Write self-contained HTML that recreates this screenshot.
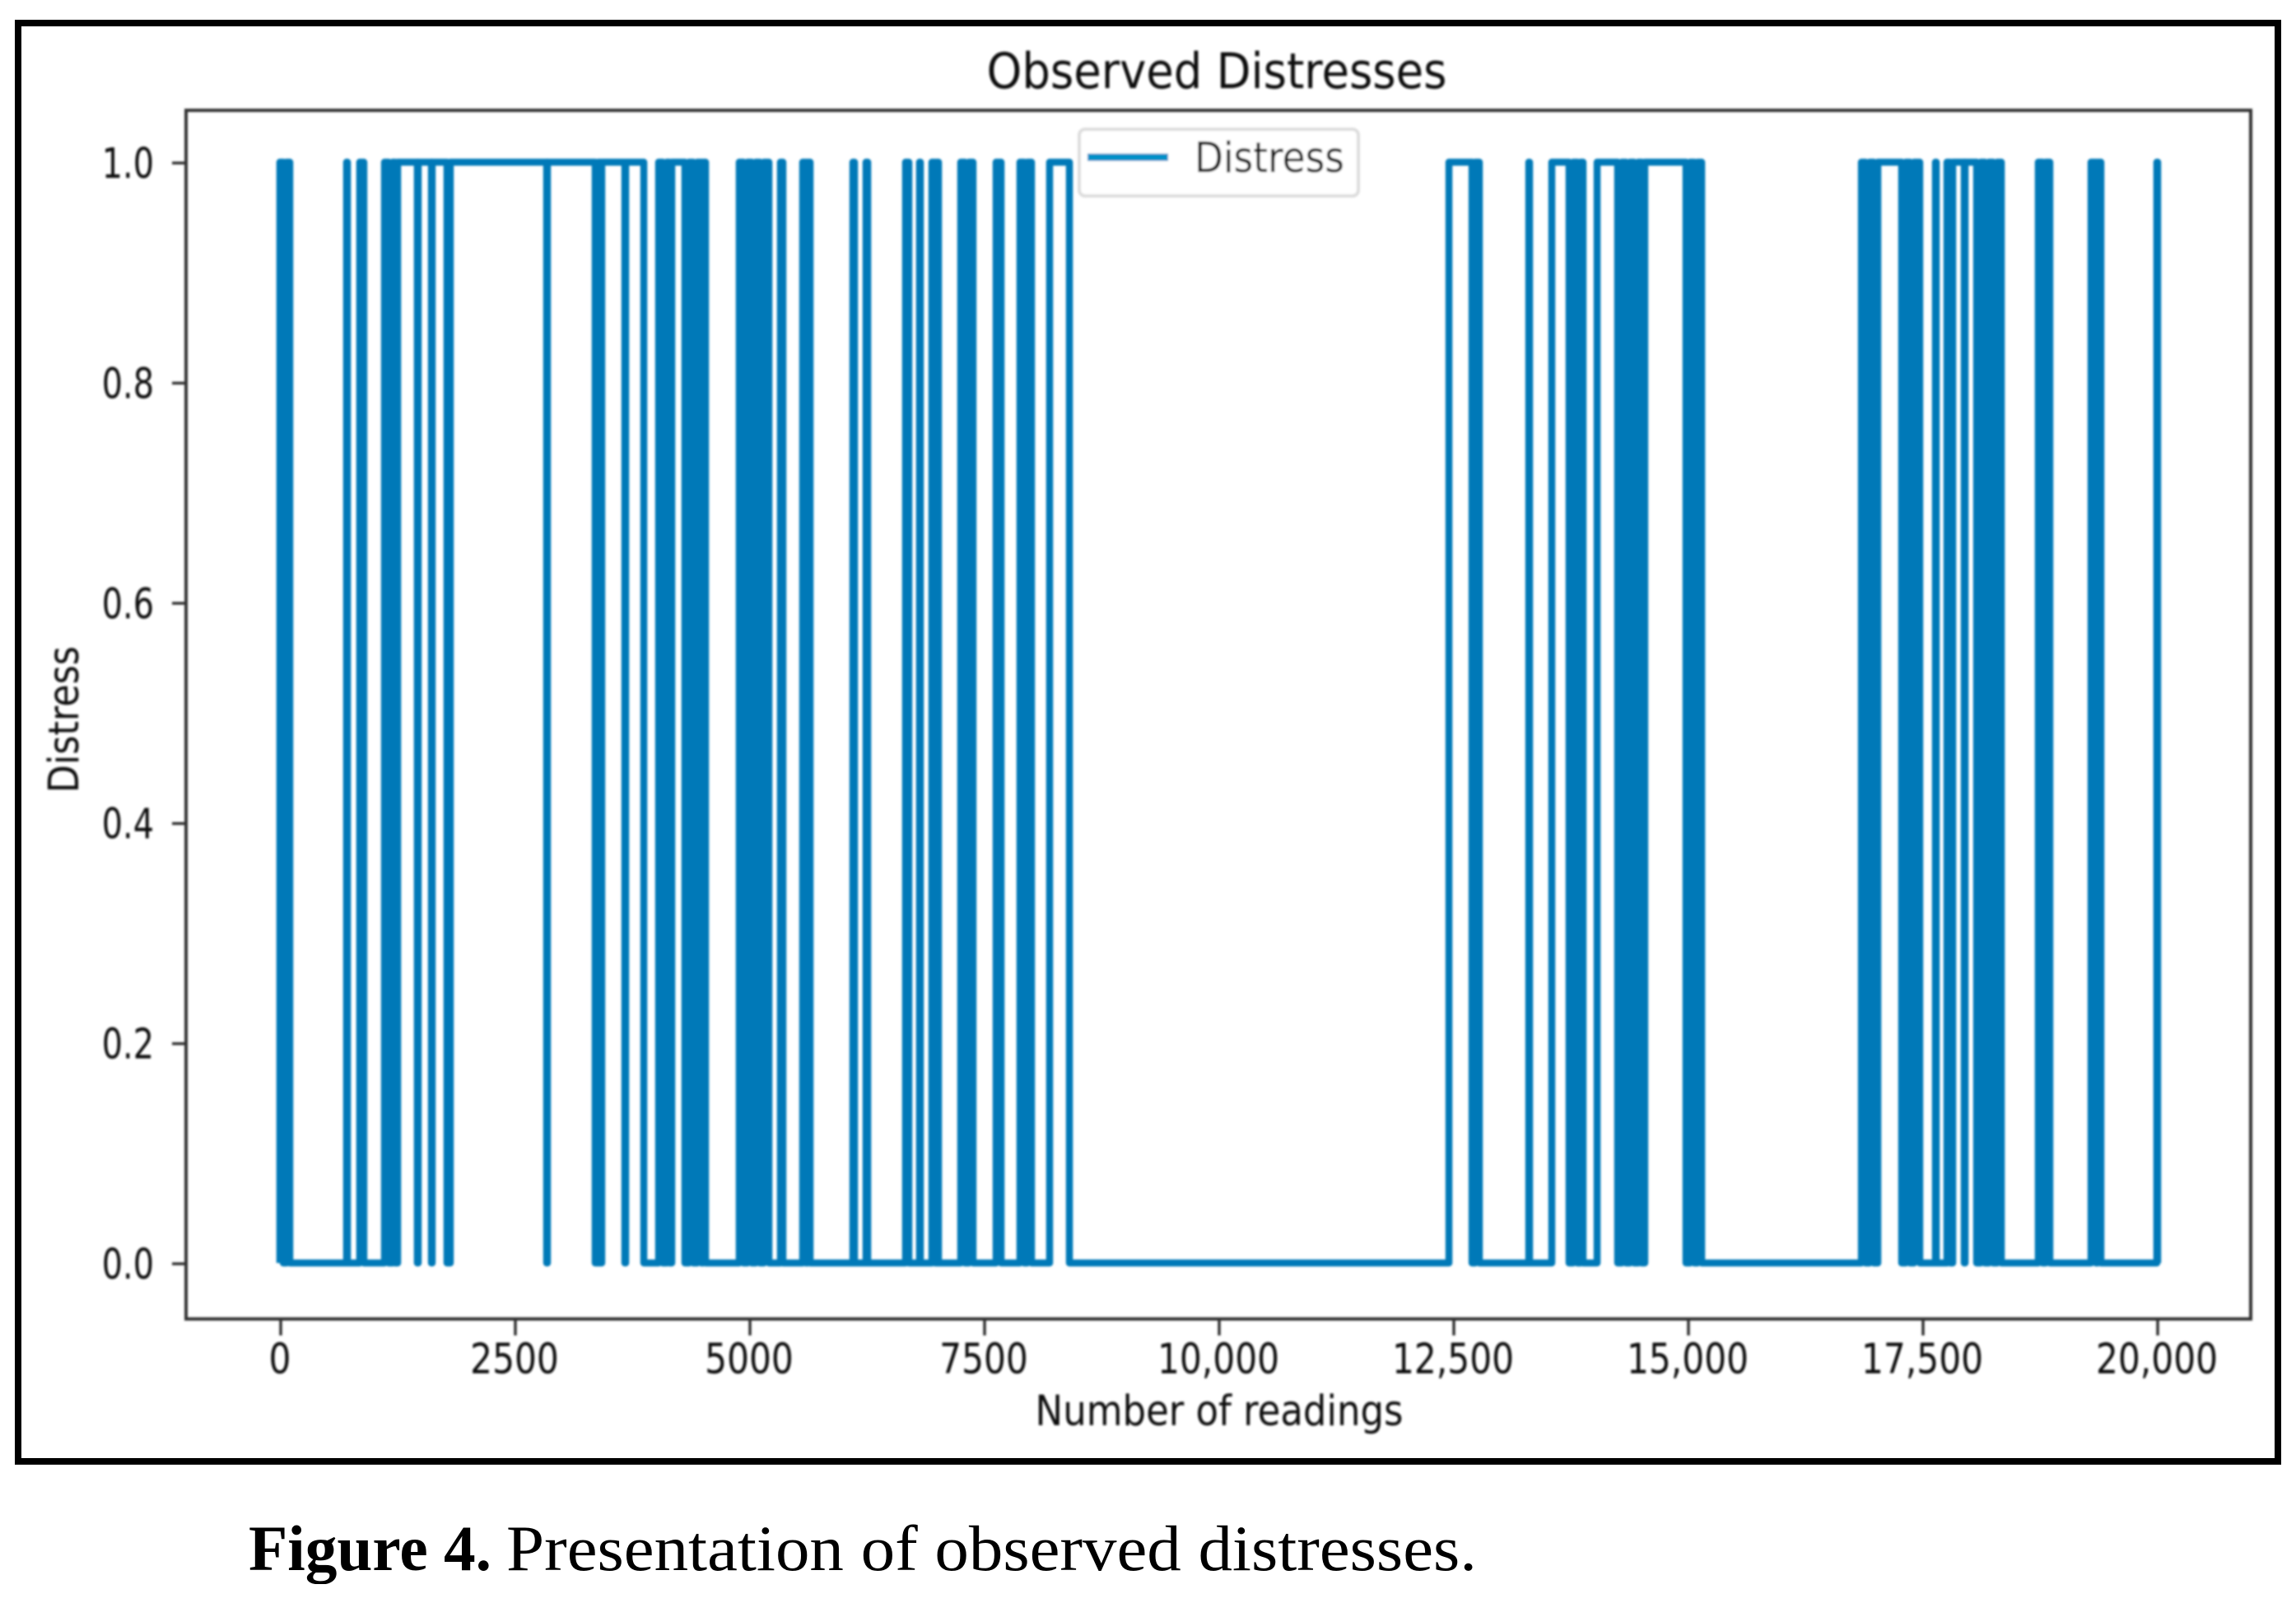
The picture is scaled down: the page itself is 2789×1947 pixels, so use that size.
<!DOCTYPE html>
<html lang="en">
<head>
<meta charset="utf-8">
<title>Observed Distresses</title>
<style>
html,body{margin:0;padding:0;background:#fff;}
svg{display:block;}
</style>
</head>
<body>
<svg id="figure" xmlns="http://www.w3.org/2000/svg" width="2789" height="1947" viewBox="0 0 2789 1947">
  <defs>
    <filter id="soft" x="-5%" y="-5%" width="110%" height="110%"><feGaussianBlur stdDeviation="1.3"/></filter>
  </defs>
  <rect x="0" y="0" width="2789" height="1947" fill="#ffffff"/>
  <g id="chart" filter="url(#soft)"></g>
  <rect x="22" y="28" width="2745" height="1747" fill="none" stroke="#000" stroke-width="8"/>
  <text x="302" y="1907" font-family="'Liberation Serif',serif" font-size="78" font-weight="bold" fill="#000" textLength="295" lengthAdjust="spacingAndGlyphs">Figure 4.</text>
  <text x="615" y="1907" font-family="'Liberation Serif',serif" font-size="78" fill="#000" textLength="1179" lengthAdjust="spacingAndGlyphs">Presentation of observed distresses.</text>
</svg>
<script>
const pulseStart = [-18,53,693,833,1097,1184,1237,1456,1605,1798,2833,3377,3412,3667,
  4018,4105,4158,4342,4430,4491,4877,4965,5053,5140,5316,5553,5605,6088,6228,6649,6798,
  6930,6982,7237,7325,7614,7868,7947,8184,12439,12719,13290,13535,13763,13842,14018,14281,
  14368,14456,14526,15009,15088,16834,16921,17009,17307,17395,17623,17746,17807,17939,18105,
  18193,18281,18719,18798,19281,19351,19982];
const pulseEnd = [18,88,702,877,1140,1211,1447,1597,1763,2825,3342,3395,3658,3860,
  4061,4132,4298,4386,4474,4518,4921,5009,5096,5193,5342,5588,5632,6105,6246,6684,6807,
  6965,7000,7281,7368,7667,7912,7991,8395,12685,12763,13298,13719,13807,13868,14237,14325,
  14412,14491,14965,15053,15132,16877,16965,17263,17351,17456,17632,17781,17930,18062,18149,
  18237,18325,18763,18842,19333,19386,19991];
const xTickValues = [0,2500,5000,7500,10000,12500,15000,17500,20000];
const xTickLabels = ['0','2500','5000','7500','10,000','12,500','15,000','17,500','20,000'];
const yTickValues = [0,0.2,0.4,0.6,0.8,1];
const yTickLabels = ['0.0','0.2','0.4','0.6','0.8','1.0'];
const seriesName = 'Distress';

const plotLeft = 226, plotRight = 2734, plotTop = 134, plotBottom = 1602;
function xScale(r){ return 342 + 0.114 * r; }
function yScale(v){ return 1534 - 1337 * v; }

const NS = 'http://www.w3.org/2000/svg';
const chart = document.getElementById('chart');
function make(tag, attrs){
  const el = document.createElementNS(NS, tag);
  for (const k in attrs) el.setAttribute(k, attrs[k]);
  chart.appendChild(el);
  return el;
}
function makeText(str, x, y, size, sx, anchor, rotate){
  const tr = 'translate(' + x + ',' + y + ')' + (rotate ? ' rotate(' + rotate + ')' : '') + ' scale(' + sx + ',1)';
  const el = make('text', {transform: tr, 'font-family': "'DejaVu Sans',sans-serif", 'font-size': size, fill: '#111', 'text-anchor': anchor});
  el.textContent = str;
  return el;
}

let d = 'M' + xScale(pulseStart[0]) + ' ' + yScale(0);
for (let i = 0; i < pulseStart.length; i++) {
  const a = xScale(pulseStart[i]), b = xScale(pulseEnd[i]);
  d += 'L' + a + ' ' + yScale(0) + 'L' + a + ' ' + yScale(1) + 'L' + b + ' ' + yScale(1) + 'L' + b + ' ' + yScale(0);
}
const line = make('path', {d: d, fill: 'none', stroke: '#0079b8', 'stroke-width': 8.5, 'stroke-linejoin': 'round'});



const spines = make('rect', {x: plotLeft, y: plotTop, width: plotRight - plotLeft, height: plotBottom - plotTop, fill: 'none', stroke: '#333', 'stroke-width': 4});



xTickValues.forEach(function(v, i){
  const x = xScale(v);
  const tick = make('line', {x1: x - 1, x2: x - 1, y1: plotBottom, y2: plotBottom + 20, stroke: '#333', 'stroke-width': 3.5});
  
  
  const label = makeText(xTickLabels[i], x - 2, 1668, 51, 0.83, 'middle');
  
  
});
yTickValues.forEach(function(v, i){
  const y = yScale(v) + 1;
  const tick = make('line', {x1: plotLeft - 17, x2: plotLeft, y1: y, y2: y, stroke: '#333', 'stroke-width': 3.5});
  
  
  const label = makeText(yTickLabels[i], 187, y + 18, 51, 0.78, 'end');
  
  
});

const title = makeText('Observed Distresses', 1478, 107, 60, 0.907, 'middle');


const xTitle = makeText('Number of readings', 1481, 1731, 51, 0.882, 'middle');


const yTitle = makeText(seriesName, 95, 874, 51, 0.873, 'middle', -90);



const legendBox = make('rect', {x: 1311, y: 157, width: 339, height: 81, rx: 7, ry: 7, fill: '#fff', stroke: '#ddd', 'stroke-width': 4});


const legendLine = make('line', {x1: 1321, x2: 1419, y1: 191, y2: 191, stroke: '#0090c8', 'stroke-width': 9});


const legendText = makeText(seriesName, 1451, 209, 51, 0.89, 'start');


</script>
</body>
</html>
